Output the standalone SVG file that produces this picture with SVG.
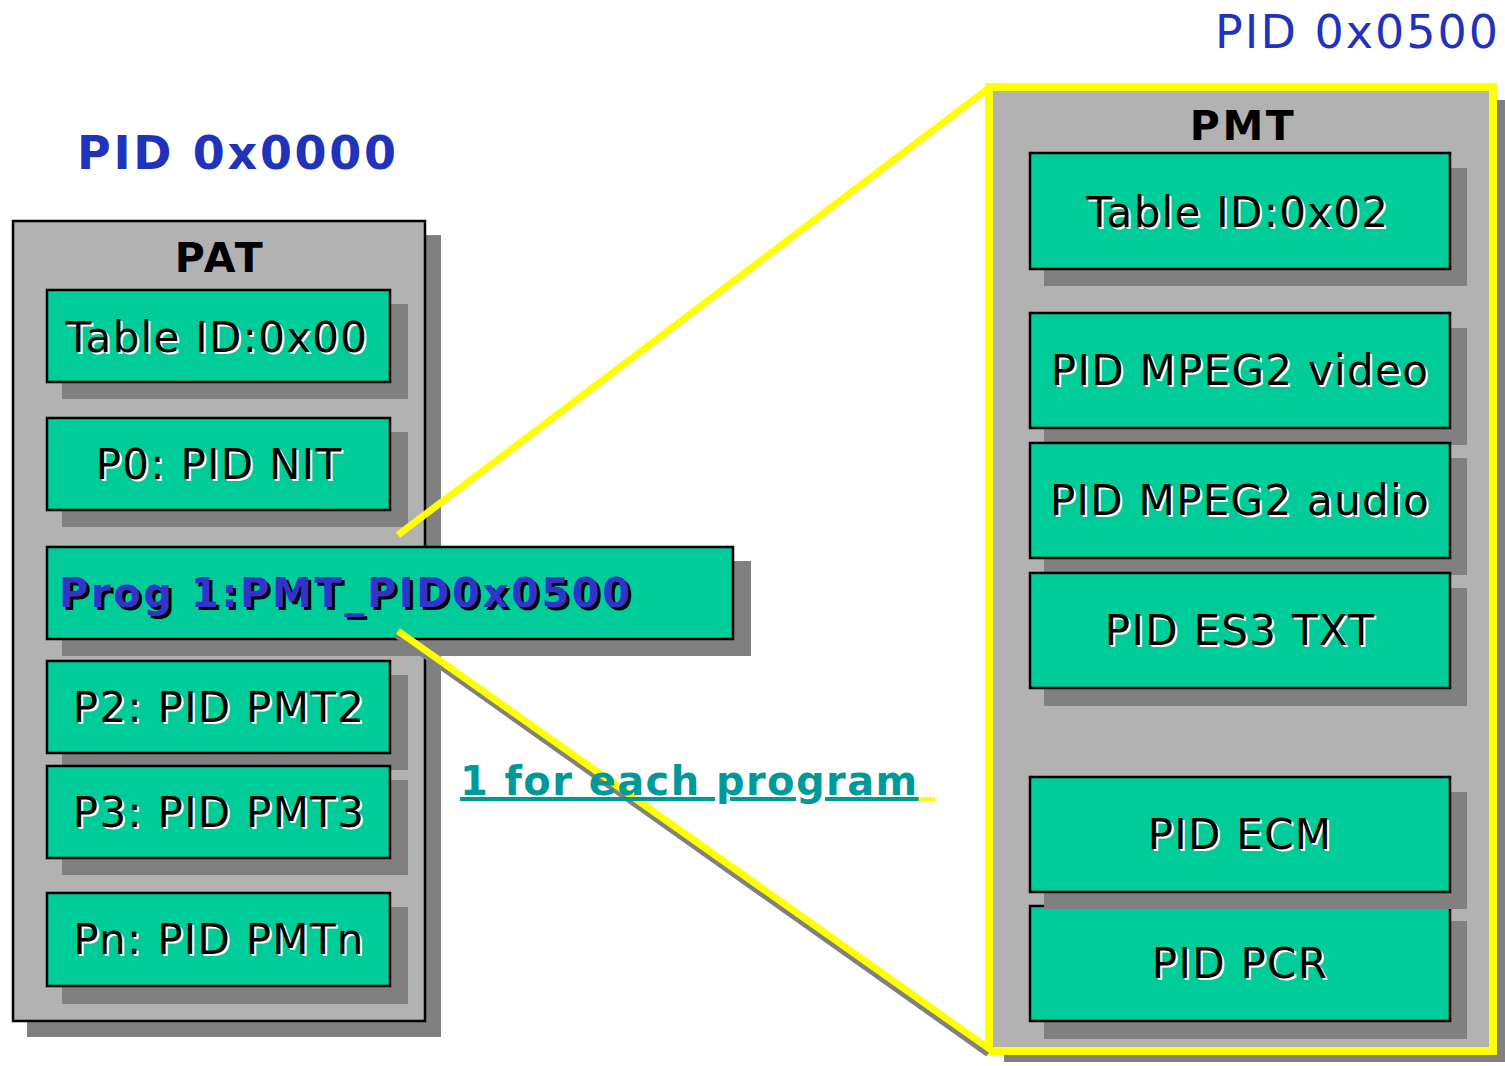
<svg xmlns="http://www.w3.org/2000/svg" width="1505" height="1066" viewBox="0 0 1505 1066">
<style>
.sh{fill:#808080}
.pnl{fill:#B2B2B2;stroke:#000;stroke-width:2.5}
.box{fill:#00CC99;stroke:#000;stroke-width:2.5}
.t{font-family:"DejaVu Sans",Verdana,sans-serif;font-size:42px;text-anchor:middle;letter-spacing:1.3px}
.tw{fill:#fff}
.tb{fill:#000}
.hd{font-family:"DejaVu Sans",Verdana,sans-serif;font-size:41px;font-weight:bold;text-anchor:middle;fill:#000;letter-spacing:2.5px}
.ttl{font-family:"DejaVu Sans",Verdana,sans-serif;font-size:46px;fill:#2233BB}
</style>
<rect width="1505" height="1066" fill="#fff"/>
<text class="ttl" x="77" y="169" font-weight="bold" letter-spacing="2.7">PID 0x0000</text>
<text class="ttl" x="1500" y="48" text-anchor="end" letter-spacing="2">PID 0x0500</text>

<g id="pat">
<rect class="sh" x="27" y="235" width="414" height="802"/>
<rect class="pnl" x="13" y="221" width="412" height="800"/>
<text class="hd" x="220" y="272">PAT</text>
</g>
<g id="pat-table">
<rect class="sh" x="62" y="304" width="346" height="95"/>
<rect class="box" x="47" y="290" width="343" height="92"/>
<text class="t tw" x="219" y="354">Table ID:0x00</text><text class="t tb" x="217" y="352">Table ID:0x00</text>
</g>
<g id="pat-p0">
<rect class="sh" x="62" y="432" width="346" height="95"/>
<rect class="box" x="47" y="418" width="343" height="92"/>
<text class="t tw" x="221" y="481">P0: PID NIT</text><text class="t tb" x="219" y="479">P0: PID NIT</text>
</g>
<g id="pat-p2">
<rect class="sh" x="62" y="675" width="346" height="95"/>
<rect class="box" x="47" y="661" width="343" height="92"/>
<text class="t tw" x="221" y="724">P2: PID PMT2</text><text class="t tb" x="219" y="722">P2: PID PMT2</text>
</g>
<g id="pat-p3">
<rect class="sh" x="62" y="780" width="346" height="95"/>
<rect class="box" x="47" y="766" width="343" height="92"/>
<text class="t tw" x="221" y="829">P3: PID PMT3</text><text class="t tb" x="219" y="827">P3: PID PMT3</text>
</g>
<g id="pat-pn">
<rect class="sh" x="62" y="907" width="346" height="97"/>
<rect class="box" x="47" y="893" width="343" height="93"/>
<text class="t tw" x="221" y="956">Pn: PID PMTn</text><text class="t tb" x="219" y="954">Pn: PID PMTn</text>
</g>
<g id="pat-prog1">
<rect class="sh" x="62" y="561" width="689" height="95"/>
<rect class="box" x="47" y="547" width="686" height="92"/>
<text x="62" y="610" font-family="DejaVu Sans,Verdana,sans-serif" font-size="40" font-weight="bold" fill="#000" letter-spacing="2.6">Prog 1:PMT_PID0x0500</text>
<text x="59" y="607" font-family="DejaVu Sans,Verdana,sans-serif" font-size="40" font-weight="bold" fill="#3333CC" letter-spacing="2.6">Prog 1:PMT_PID0x0500</text>
</g>

<g id="pmt">
<rect class="sh" x="1004" y="100" width="504" height="962"/>
<rect x="989" y="87" width="504" height="964" fill="#B2B2B2" stroke="#FFFF00" stroke-width="8"/>
<text class="hd" x="1243" y="140">PMT</text>
</g>
<g id="pmt-table">
<rect class="sh" x="1044" y="168" width="423" height="118"/>
<rect class="box" x="1030" y="153" width="420" height="116"/>
<text class="t tw" x="1240" y="229">Table ID:0x02</text><text class="t tb" x="1238" y="227">Table ID:0x02</text>
</g>
<g id="pmt-video">
<rect class="sh" x="1044" y="328" width="423" height="117"/>
<rect class="box" x="1030" y="313" width="420" height="115"/>
<text class="t tw" x="1242" y="387">PID MPEG2 video</text><text class="t tb" x="1240" y="385">PID MPEG2 video</text>
</g>
<g id="pmt-audio">
<rect class="sh" x="1044" y="458" width="423" height="117"/>
<rect class="box" x="1030" y="443" width="420" height="115"/>
<text class="t tw" x="1242" y="517">PID MPEG2 audio</text><text class="t tb" x="1240" y="515">PID MPEG2 audio</text>
</g>
<g id="pmt-es3">
<rect class="sh" x="1044" y="588" width="423" height="118"/>
<rect class="box" x="1030" y="573" width="420" height="115"/>
<text class="t tw" x="1242" y="647">PID ES3 TXT</text><text class="t tb" x="1240" y="645">PID ES3 TXT</text>
</g>
<g id="pmt-pcr">
<rect class="sh" x="1044" y="921" width="423" height="118"/>
<rect class="box" x="1030" y="906" width="420" height="115"/>
<text class="t tw" x="1242" y="980">PID PCR</text><text class="t tb" x="1240" y="978">PID PCR</text>
</g>
<g id="pmt-ecm">
<rect class="sh" x="1044" y="792" width="423" height="117"/>
<rect class="box" x="1030" y="777" width="420" height="115"/>
<text class="t tw" x="1242" y="851">PID ECM</text><text class="t tb" x="1240" y="849">PID ECM</text>
</g>

<g id="connectors" fill="none" stroke-linecap="butt">
<line x1="396" y1="635" x2="988" y2="1054" stroke="#808080" stroke-width="6"/>
<line x1="398" y1="535" x2="989" y2="88" stroke="#FFFF00" stroke-width="7"/>
<line x1="398" y1="631" x2="991" y2="1050" stroke="#FFFF00" stroke-width="7"/>
</g>

<g id="label">
<rect x="917" y="797" width="18" height="4" fill="#FFFF00"/>
<text x="460" y="795" font-family="DejaVu Sans,Verdana,sans-serif" font-size="40" font-weight="bold" fill="#009999" text-decoration="underline" letter-spacing="1.4">1 for each program</text>
</g>
</svg>
